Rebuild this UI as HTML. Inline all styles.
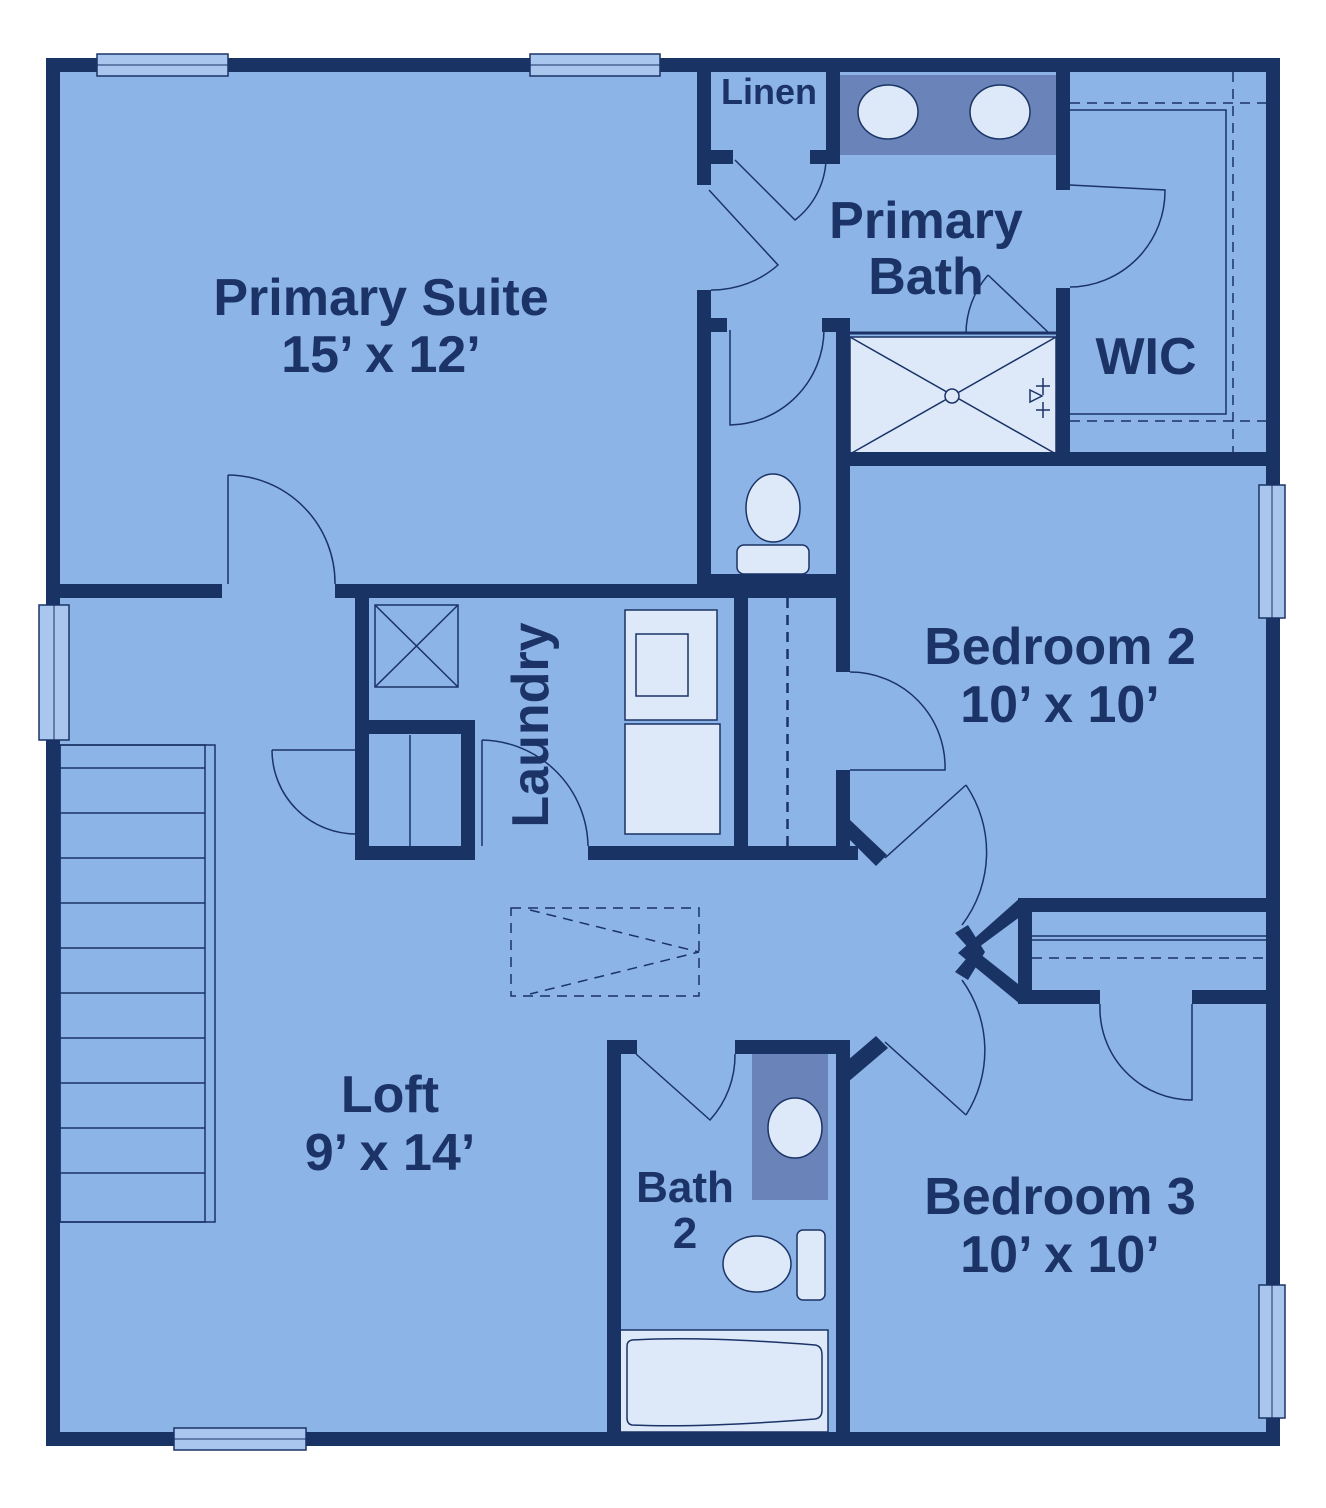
<!DOCTYPE html>
<html><head><meta charset="utf-8"><style>
html,body{margin:0;padding:0;background:#fff}
svg{display:block}
text{font-family:"Liberation Sans",sans-serif;fill:#1b3366;text-anchor:middle;font-weight:bold}
</style></head><body>
<svg width="1326" height="1508" viewBox="0 0 1326 1508" xmlns="http://www.w3.org/2000/svg">
<rect x="0" y="0" width="1326" height="1508" fill="#fff"/>
<rect x="53" y="65" width="1220" height="1374" fill="#8db4e7"/>
<g fill="#6a84ba"><rect x="840" y="75" width="216" height="80"/><rect x="752" y="1052" width="76" height="148"/></g>
<g fill="#dde9f9" stroke="#1b3366" stroke-width="1.5">
<rect x="850" y="337" width="206" height="117"/>
<rect x="625" y="610" width="92" height="110"/>
<rect x="625" y="724" width="95" height="110"/>
<rect x="620" y="1330" width="208" height="102"/>
<path d="M632 1340 Q700 1336 815 1345 Q822 1346 822 1355 L822 1410 Q822 1418 815 1419 Q700 1428 632 1425 Q627 1424 627 1418 L627 1346 Q627 1341 632 1340Z"/>
<ellipse cx="888" cy="112" rx="30" ry="27"/><ellipse cx="1000" cy="112" rx="30" ry="27"/>
<ellipse cx="795" cy="1128" rx="27" ry="30"/>
<ellipse cx="773" cy="508" rx="27" ry="34"/><rect x="737" y="545" width="72" height="29" rx="7"/>
<ellipse cx="757" cy="1264" rx="34" ry="28"/><rect x="797" y="1230" width="28" height="70" rx="6"/>
</g>
<g fill="none" stroke="#1b3366" stroke-width="1.5">
<rect x="636" y="634" width="52" height="62"/>
<path d="M850 337 L1056 454 M1056 337 L850 454"/><circle cx="952" cy="396" r="7" fill="#dde9f9"/>
<rect x="375" y="605" width="83" height="82"/><path d="M375 605 L458 687 M458 605 L375 687"/>
<path d="M1070 110 L1226 110 L1226 414 L1070 414"/>
<path d="M410 735 L410 848"/>
<rect x="60" y="745" width="155" height="477"/><rect x="60" y="745" width="145" height="477"/>
<path d="M60 768H205M60 813H205M60 858H205M60 903H205M60 948H205M60 993H205M60 1038H205M60 1083H205M60 1128H205M60 1173H205"/>
<path d="M228 475 A108 108 0 0 1 335 584"/><path d="M228 475 L228 584"/>
<path d="M272 750 A84 84 0 0 0 356 834"/><path d="M272 750 L356 750"/>
<path d="M482 740 A108 108 0 0 1 588 846"/><path d="M482 740 L482 846"/>
<path d="M850 672 A95 95 0 0 1 945 770 L850 770"/>
<path d="M966 785 A120 120 0 0 1 962 925"/><path d="M966 785 L885 858"/>
<path d="M962 980 A120 120 0 0 1 966 1115"/><path d="M966 1115 L885 1042"/>
<path d="M1100 1004 A92 92 0 0 0 1192 1100 L1192 1004"/>
<path d="M1070 185 L1165 190 A96 96 0 0 1 1070 287"/>
<path d="M730 330 L730 425 A96 96 0 0 0 824 330"/>
<path d="M709 190 L778 265 A100 100 0 0 1 711 290"/>
<path d="M735 160 L795 220 A80 80 0 0 0 826 160"/>
<path d="M636 1054 L710 1120 A96 96 0 0 0 735 1054"/>
<path d="M988 275 L1050 334 M966 334 A90 90 0 0 1 988 275"/>
<path d="M850 333 H1056" stroke-width="3"/>
<path d="M1032 940 H1266 M1032 936 H1266" />
<path d="M1043 378V395M1036 386H1050M1043 402V418M1036 410H1050M1030 390L1042 396L1030 402Z"/>
</g>
<g fill="none" stroke="#1b3366" stroke-width="1.5" stroke-dasharray="10,7">
<rect x="511" y="908" width="188" height="88"/>
<path d="M530 910 L699 952 L530 994"/>
<path d="M1070 103 H1266 M1070 421 H1266 M1233 72 V452"/>
<path d="M788 598 V846 M787 598 V846"/>
<path d="M1032 958 H1266"/>
</g>
<g fill="#1a3365">
<rect x="46" y="58" width="1234" height="14"/><rect x="46" y="58" width="14" height="1388"/>
<rect x="1266" y="58" width="14" height="1388"/><rect x="46" y="1432" width="1234" height="14"/>
<rect x="53" y="584" width="169" height="14"/><rect x="335" y="584" width="376" height="14"/>
<rect x="697" y="65" width="14" height="120"/><rect x="697" y="290" width="14" height="308"/>
<rect x="697" y="150" width="36" height="14"/><rect x="697" y="318" width="30" height="14"/>
<rect x="826" y="65" width="14" height="96"/><rect x="810" y="150" width="30" height="14"/>
<rect x="822" y="318" width="28" height="14"/>
<rect x="1056" y="65" width="14" height="125"/><rect x="1056" y="288" width="14" height="178"/>
<rect x="836" y="318" width="14" height="280"/><rect x="836" y="452" width="437" height="14"/>
<rect x="697" y="574" width="153" height="14"/>
<rect x="355" y="584" width="495" height="14"/>
<rect x="355" y="598" width="14" height="262"/><rect x="355" y="720" width="120" height="14"/>
<rect x="461" y="720" width="14" height="140"/><rect x="355" y="846" width="120" height="14"/>
<rect x="588" y="846" width="270" height="14"/><rect x="734" y="598" width="14" height="262"/>
<rect x="836" y="598" width="14" height="74"/><rect x="836" y="770" width="14" height="90"/>
<polygon points="850,820 887,855 876,866 844,834"/>
<rect x="1018" y="898" width="255" height="14"/><rect x="1018" y="990" width="82" height="14"/><rect x="1192" y="990" width="81" height="14"/>
<rect x="1018" y="898" width="14" height="106"/>
<polygon points="1020,898 1032,908 975,950 1032,995 1020,1004 958,953"/>
<polygon points="955,933 968,925 985,952 968,980 955,972 972,952"/>
<rect x="607" y="1040" width="14" height="406"/><rect x="607" y="1040" width="30" height="14"/>
<rect x="735" y="1040" width="115" height="14"/><rect x="836" y="1040" width="14" height="406"/>
<polygon points="848,1060 876,1036 888,1048 848,1082"/>
</g>
<g fill="#a9c6ef" stroke="#1b3366" stroke-width="1.5">
<rect x="97" y="54" width="131" height="22"/><rect x="530" y="54" width="130" height="22"/>
<rect x="39" y="605" width="30" height="135"/><rect x="1259" y="485" width="26" height="133"/>
<rect x="1259" y="1285" width="26" height="133"/><rect x="174" y="1428" width="132" height="22"/>
</g>
<g fill="none" stroke="#1b3366" stroke-width="1"><path d="M97 65H228M530 65H660M54 605V740M1272 485V618M1272 1285V1418M174 1439H306"/></g>
<text x="381" y="315" font-size="52">Primary Suite</text>
<text x="381" y="372" font-size="52">15’ x 12’</text>
<text x="769" y="104" font-size="36">Linen</text>
<text x="926" y="238" font-size="52">Primary</text>
<text x="926" y="294" font-size="52">Bath</text>
<text x="1146" y="374" font-size="52">WIC</text>
<text x="1060" y="664" font-size="52">Bedroom 2</text>
<text x="1060" y="722" font-size="52">10’ x 10’</text>
<text x="1060" y="1214" font-size="52">Bedroom 3</text>
<text x="1060" y="1272" font-size="52">10’ x 10’</text>
<text x="390" y="1112" font-size="52">Loft</text>
<text x="390" y="1170" font-size="52">9’ x 14’</text>
<text x="685" y="1202" font-size="44">Bath</text>
<text x="685" y="1248" font-size="44">2</text>
<text transform="translate(548,725) rotate(-90)" font-size="52">Laundry</text>
</svg>
</body></html>
